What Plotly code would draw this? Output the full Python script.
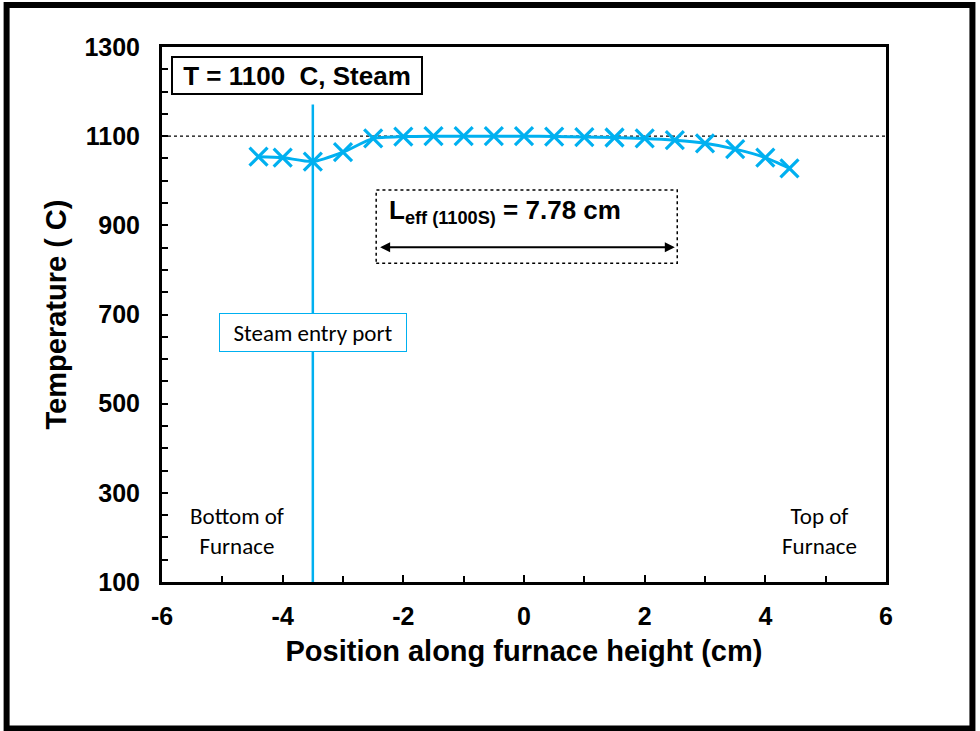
import plotly.graph_objects as go

# Data
positions = [-4.4, -4.0, -3.5, -3.0, -2.5, -2.0, -1.5, -1.0, -0.5, 0.0, 0.5,
             1.0, 1.5, 2.0, 2.5, 3.0, 3.5, 4.0, 4.4]
temperatures = [1054, 1052, 1043, 1064, 1095, 1099, 1100, 1100, 1100, 1100, 1099,
                1098, 1097, 1095, 1091, 1084, 1071, 1052, 1028]
x_tick_values = [-6, -4, -2, 0, 2, 4, 6]
x_tick_labels = ["-6", "-4", "-2", "0", "2", "4", "6"]
y_tick_values = [100, 300, 500, 700, 900, 1100, 1300]
y_tick_labels = ["100", "300", "500", "700", "900", "1100", "1300"]
set_temperature = 1100
steam_port_x = -3.5
leff_start = -2.41
leff_end = 2.50

BLUE = "#00B0F0"
ARIAL = "Liberation Sans, Arial, sans-serif"
CAL = "Carlito, Noto Sans, Open Sans, sans-serif"

fig = go.Figure()
fig.add_trace(go.Scatter(
    x=positions, y=temperatures, mode="lines+markers",
    line=dict(color=BLUE, width=3, shape="spline", smoothing=0.6),
    marker=dict(symbol="x-thin", size=18, line=dict(color=BLUE, width=3.2)),
    showlegend=False, hoverinfo="skip"))

shapes = [
    dict(type="line", xref="x", yref="y", x0=-6, x1=6, y0=set_temperature, y1=set_temperature,
         line=dict(color="black", width=1.2, dash="dot"), layer="below"),
    dict(type="line", xref="x", yref="y", x0=steam_port_x, x1=steam_port_x, y0=100, y1=1171,
         line=dict(color=BLUE, width=2.5)),
    dict(type="rect", xref="x", yref="y", x0=-2.45, x1=2.54, y0=815, y1=979,
         line=dict(color="black", width=1.5, dash="dot")),
    dict(type="rect", xref="paper", yref="paper",
         x0=(6 - 161.5) / 724.5, x1=(972.5 - 161.5) / 724.5,
         y0=1 - (729 - 46.5) / 535.8, y1=1 - (4.5 - 46.5) / 535.8,
         line=dict(color="black", width=6)),
]

annotations = [
    dict(x=-3.756, y=1236, xref="x", yref="y", text="<b>T = 1100  C, Steam</b>",
         showarrow=False, font=dict(family=ARIAL, size=26, color="black"),
         width=244, height=31, borderpad=2,
         bgcolor="white", bordercolor="black", borderwidth=2),
    dict(x=-2.27, y=930, xref="x", yref="y", xanchor="left",
         text="<b>L<sub>eff (1100S)</sub> = 7.78 cm</b>",
         showarrow=False, font=dict(family=ARIAL, size=26, color="black")),
    dict(x=leff_end, y=851, ax=leff_start, ay=851, xref="x", yref="y", axref="x", ayref="y",
         text="", showarrow=True, arrowhead=2, arrowside="end+start", arrowsize=1,
         arrowwidth=2, arrowcolor="black", standoff=0, startstandoff=0),
    dict(x=steam_port_x, y=660, xref="x", yref="y", text="Steam entry port",
         showarrow=False, font=dict(family=CAL, size=23, color="black"),
         width=180, height=31, borderpad=3,
         bgcolor="white", bordercolor=BLUE, borderwidth=1),
    dict(x=-4.75, y=214, xref="x", yref="y", text="Bottom of<br>Furnace",
         showarrow=False, font=dict(family=CAL, size=23, color="black")),
    dict(x=4.9, y=214, xref="x", yref="y", text="Top of<br>Furnace",
         showarrow=False, font=dict(family=CAL, size=23, color="black")),
]

fig.update_layout(
    width=980, height=731,
    margin=dict(l=161.5, r=94, t=46.5, b=148.7),
    paper_bgcolor="white", plot_bgcolor="white",
    shapes=shapes, annotations=annotations,
    xaxis=dict(range=[-6, 6], tickmode="array", tickvals=x_tick_values, ticktext=x_tick_labels,
               ticks="inside", ticklen=7, tickwidth=2, ticklabelstandoff=10,
               tickcolor="black", minor=dict(dtick=1, ticks="inside", ticklen=6, tickwidth=2,
                                              tickcolor="black"),
               showline=True, linewidth=3, linecolor="black", mirror=True, showgrid=False,
               zeroline=False,
               tickfont=dict(family=ARIAL, size=25, color="black", weight="bold"),
               title=dict(text="<b>Position along furnace height (cm)</b>",
                          font=dict(family=ARIAL, size=29, color="black"), standoff=12)),
    yaxis=dict(range=[100, 1300], tickmode="array", tickvals=y_tick_values, ticktext=y_tick_labels,
               ticks="inside", ticklen=6, tickwidth=2, ticklabelstandoff=14,
               tickcolor="black", minor=dict(dtick=50, ticks="inside", ticklen=6, tickwidth=2,
                                              tickcolor="black"),
               showline=True, linewidth=3, linecolor="black", mirror=True, showgrid=False,
               zeroline=False,
               tickfont=dict(family=ARIAL, size=25, color="black", weight="bold"),
               title=dict(text="<b>Temperature ( C)</b>",
                          font=dict(family=ARIAL, size=29, color="black"), standoff=10)),
)

fig.write_html("out.html", config={"displayModeBar": False},
               post_script="document.body.style.margin='0';")
